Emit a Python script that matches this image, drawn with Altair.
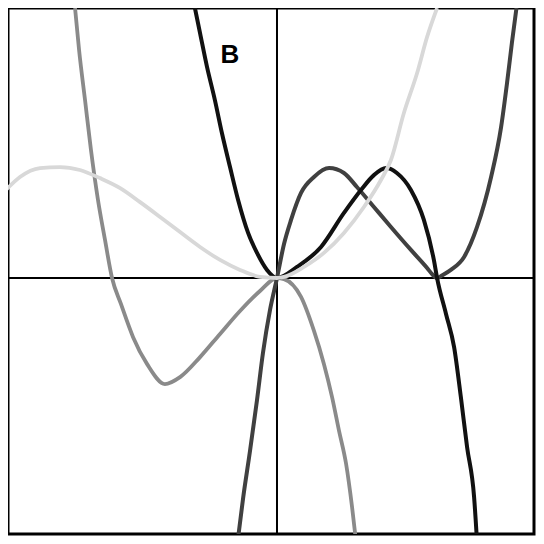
import altair as alt
import pandas as pd

# Curve samples (graph units)
black_x = [-3.04, -2.85, -2.59, -2.30, -2.04, -1.74, -1.44, -1.07, -0.74, -0.37, 0.0,
           0.74, 1.63, 2.48, 3.11, 3.59, 4.04, 4.44, 4.96, 5.44, 5.81, 5.93,
           6.26, 6.56, 6.81, 7.04, 7.30, 7.41]
black_y = [10.0, 9.07, 7.81, 6.59, 5.37, 4.11, 2.89, 1.67, 0.93, 0.30, 0.0,
           0.41, 1.15, 2.41, 3.26, 3.81, 4.07, 3.89, 3.26, 2.15, 0.67, 0.0,
           -1.33, -2.56, -4.41, -6.26, -8.11, -9.78]

dark_x = [-1.46, -1.26, -1.00, -0.74, -0.52, -0.26, 0.0, 0.26, 0.52, 0.89, 1.37, 1.93,
          2.48, 2.96, 3.59, 4.22, 4.96, 5.56, 5.75, 5.93, 6.12, 6.44, 6.93, 7.41, 7.93,
          8.30, 8.52, 8.70, 8.87]
dark_y = [-9.78, -8.19, -6.41, -4.52, -2.78, -1.19, 0.0, 1.26, 2.15, 3.15, 3.74, 4.07,
          3.89, 3.37, 2.63, 1.89, 1.04, 0.37, 0.14, 0.0, 0.10, 0.30, 0.78, 1.89, 3.74,
          5.59, 7.22, 8.70, 10.0]

medium_x = [-7.48, -7.33, -7.11, -6.89, -6.63, -6.37, -6.11, -5.78, -5.33, -4.81, -4.15,
            -3.59, -2.85, -2.11, -1.37, -0.63, 0.0, 0.26, 0.89, 1.37, 1.74, 2.04,
            2.30, 2.56, 2.78, 2.93]
medium_y = [10.0, 8.44, 6.59, 4.74, 2.89, 1.41, 0.0, -0.96, -2.19, -3.19, -3.93,
            -3.67, -2.93, -2.07, -1.22, -0.48, 0.0, -0.04, -0.70, -1.96, -3.19, -4.41,
            -5.67, -6.89, -8.48, -9.78]

light_x = [-10.04, -9.52, -8.78, -8.04, -7.30, -6.56, -5.81, -5.07, -4.33, -3.59, -2.85,
           -2.11, -1.37, -0.63, 0.0, 0.26, 1.00, 1.74, 2.48, 3.22, 3.85, 4.22, 4.70,
           5.19, 5.56, 5.93]
light_y = [3.26, 3.74, 4.07, 4.11, 4.00, 3.70, 3.33, 2.81, 2.26, 1.70, 1.15,
           0.67, 0.30, 0.04, 0.0, 0.04, 0.41, 0.93, 1.67, 2.63, 3.63, 4.37, 6.11,
           7.59, 8.93, 10.0]

label_text = ["B"]
label_x = [-1.74]
label_y = [7.96]

x_domain = [-9.963, 9.519]
y_domain = [-9.481, 10.0]

xs = alt.Scale(domain=x_domain, nice=False, zero=False)
ys = alt.Scale(domain=y_domain, nice=False, zero=False)


def curve(xv, yv, color, width):
    df = pd.DataFrame({"x": xv, "y": yv})
    return alt.Chart(df).mark_line(
        color=color, strokeWidth=width, interpolate="monotone", clip=True
    ).encode(
        x=alt.X("x:Q", scale=xs, axis=None),
        y=alt.Y("y:Q", scale=ys, axis=None),
    )


vaxis = alt.Chart(pd.DataFrame({"x": [0.0]})).mark_rule(
    color="black", strokeWidth=2
).encode(x=alt.X("x:Q", scale=xs, axis=None))
haxis = alt.Chart(pd.DataFrame({"y": [0.0]})).mark_rule(
    color="black", strokeWidth=2
).encode(y=alt.Y("y:Q", scale=ys, axis=None))

label = alt.Chart(pd.DataFrame({"x": label_x, "y": label_y, "t": label_text})).mark_text(
    fontSize=26, fontWeight="bold", font="Liberation Sans",
    align="center", baseline="alphabetic", color="black"
).encode(
    x=alt.X("x:Q", scale=xs, axis=None),
    y=alt.Y("y:Q", scale=ys, axis=None),
    text="t:N",
)

chart = alt.layer(
    vaxis,
    haxis,
    curve(medium_x, medium_y, "#8a8a8a", 3.8),
    curve(dark_x, dark_y, "#404040", 4),
    curve(black_x, black_y, "#111111", 4),
    curve(light_x, light_y, "#d8d8d8", 3.8),
    label,
).properties(
    width=526,
    height=526,
    padding={"left": 0, "top": 0, "right": 2, "bottom": 2},
    autosize=alt.AutoSizeParams(type="none"),
    background="white",
).configure_view(stroke="black", strokeWidth=3)

chart.save("out.html", embed_options={"renderer": "svg", "actions": False})
